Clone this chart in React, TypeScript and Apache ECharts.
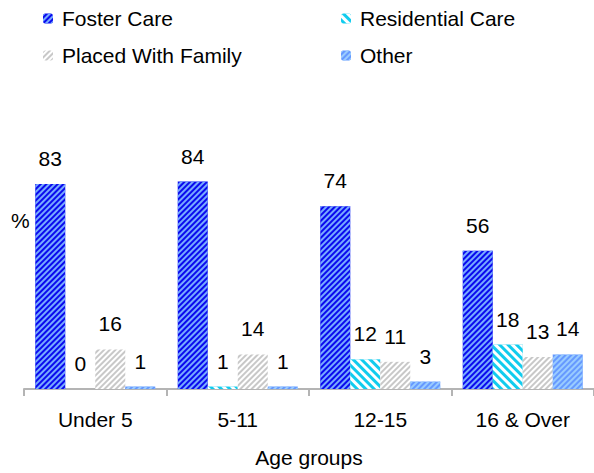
import React, { useEffect, useRef } from "react";
import * as echarts from "echarts";

const categories = ["Under 5", "5-11", "12-15", "16 & Over"];
const fosterCare = [83, 84, 74, 56];
const residentialCare = [0, 1, 12, 18];
const placedWithFamily = [16, 14, 11, 13];
const other = [1, 1, 3, 14];
const seriesNames = ["Foster Care", "Residential Care", "Placed With Family", "Other"];

const FONT = "'Liberation Sans', Arial, sans-serif";

function stripes(fg: string, bg: string, rot: number, w: number) {
  return {
    symbol: "rect",
    symbolSize: 1,
    color: fg,
    backgroundColor: bg,
    dashArrayX: [1, 0],
    dashArrayY: [w, w],
    rotation: rot,
  };
}

const styles = [
  { color: "#0a0aee", decal: stripes("#77aaff", "#0a0aee", -Math.PI / 4, 2) },
  { color: "#11ccee", decal: stripes("#ffffff", "#11ccee", Math.PI / 4, 3) },
  { color: "#ffffff", decal: stripes("#c8c8c8", "#ffffff", -Math.PI / 4, 2) },
  { color: "#6699ff", decal: stripes("#99ccff", "#6699ff", -Math.PI / 4, 2) },
];

export default function App() {
  const ref = useRef<HTMLDivElement>(null);
  useEffect(() => {
    if (!ref.current) return;
    const chart = echarts.init(ref.current, undefined, { renderer: "svg" });
    const data = [fosterCare, residentialCare, placedWithFamily, other];
    const legendBase = {
      orient: "vertical",
      top: 3,
      itemWidth: 10,
      itemHeight: 10,
      itemGap: 16,
      textStyle: { fontSize: 21, color: "#000", fontFamily: FONT, padding: [0, 0, 0, 4] },
    };
    chart.setOption({
      animation: false,
      textStyle: { fontFamily: FONT },
      legend: [
        { ...legendBase, data: [seriesNames[0], seriesNames[2]], left: 38 },
        { ...legendBase, data: [seriesNames[1], seriesNames[3]], left: 336 },
      ],
      grid: { left: 24, right: -5, top: 142, bottom: 84, containLabel: false },
      xAxis: {
        type: "category",
        data: categories,
        name: "Age groups",
        nameLocation: "middle",
        nameGap: 58,
        nameTextStyle: { fontSize: 21, color: "#000", fontFamily: FONT },
        axisLine: { show: true, lineStyle: { color: "#b4b4b4", width: 2 } },
        axisTick: { show: true, length: 7, alignWithLabel: false, interval: 0, lineStyle: { color: "#b4b4b4", width: 2 } },
        axisLabel: { fontSize: 21, color: "#000", margin: 20, fontFamily: FONT },
        splitLine: { show: false },
      },
      yAxis: { type: "value", min: 0, max: 100, show: false },
      graphic: [
        {
          type: "text",
          left: 11,
          top: 210,
          style: { text: "%", fontSize: 21, fill: "#000", font: `21px ${FONT}` },
        },
      ],
      series: data.map((d, i) => ({
        name: seriesNames[i],
        type: "bar",
        data: d,
        barWidth: 30,
        barGap: "0%",
        itemStyle: styles[i],
        label: {
          show: true,
          position: "top",
          distance: 15,
          fontSize: 21,
          color: "#000",
          fontFamily: FONT,
        },
      })),
    });
    return () => chart.dispose();
  }, []);
  return (
    <div
      ref={ref}
      style={{ position: "fixed", left: 0, top: 0, width: 594, height: 473, background: "#fff" }}
    />
  );
}
